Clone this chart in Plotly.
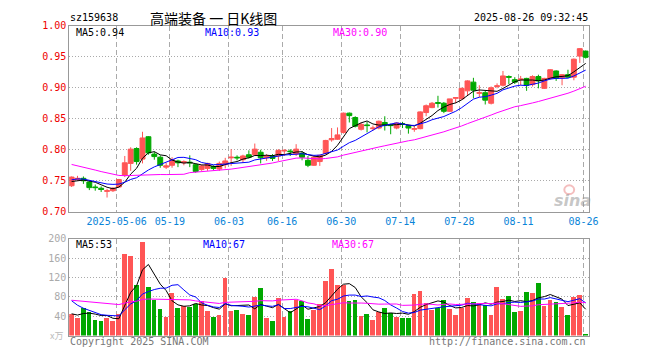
import plotly.graph_objects as go

# ---------------- data ----------------
dates = [
    "2025-04-21", "2025-04-22", "2025-04-23", "2025-04-24", "2025-04-25", "2025-04-28", "2025-04-29", "2025-04-30",
    "2025-05-06", "2025-05-07", "2025-05-08", "2025-05-09", "2025-05-12", "2025-05-13", "2025-05-14", "2025-05-15",
    "2025-05-16", "2025-05-19", "2025-05-20", "2025-05-21", "2025-05-22", "2025-05-23", "2025-05-26", "2025-05-27",
    "2025-05-28", "2025-05-29", "2025-05-30", "2025-06-03", "2025-06-04", "2025-06-05", "2025-06-06", "2025-06-09",
    "2025-06-10", "2025-06-11", "2025-06-12", "2025-06-13", "2025-06-16", "2025-06-17", "2025-06-18", "2025-06-19",
    "2025-06-20", "2025-06-23", "2025-06-24", "2025-06-25", "2025-06-26", "2025-06-27", "2025-06-30", "2025-07-01",
    "2025-07-02", "2025-07-03", "2025-07-04", "2025-07-07", "2025-07-08", "2025-07-09", "2025-07-10", "2025-07-11",
    "2025-07-14", "2025-07-15", "2025-07-16", "2025-07-17", "2025-07-18", "2025-07-21", "2025-07-22", "2025-07-23",
    "2025-07-24", "2025-07-25", "2025-07-28", "2025-07-29", "2025-07-30", "2025-07-31", "2025-08-01", "2025-08-04",
    "2025-08-05", "2025-08-06", "2025-08-07", "2025-08-08", "2025-08-11", "2025-08-12", "2025-08-13", "2025-08-14",
    "2025-08-15", "2025-08-18", "2025-08-19", "2025-08-20", "2025-08-21", "2025-08-22", "2025-08-25", "2025-08-26",
]

opens = [
    0.742, 0.752, 0.754, 0.748, 0.740, 0.738, 0.733, 0.734, 0.740, 0.759, 0.778, 0.802, 0.785, 0.821, 0.793, 0.788,
    0.772, 0.775, 0.782, 0.779, 0.780, 0.776, 0.768, 0.770, 0.773, 0.769, 0.776, 0.787, 0.788, 0.784, 0.792, 0.792,
    0.796, 0.787, 0.790, 0.790, 0.798, 0.798, 0.793, 0.794, 0.783, 0.775, 0.781, 0.794, 0.816, 0.817, 0.828, 0.859,
    0.852, 0.833, 0.840, 0.834, 0.835, 0.844, 0.840, 0.835, 0.842, 0.839, 0.833, 0.834, 0.860, 0.868, 0.876, 0.875,
    0.862, 0.883, 0.882, 0.895, 0.909, 0.891, 0.892, 0.875, 0.902, 0.904, 0.918, 0.913, 0.913, 0.915, 0.905, 0.918,
    0.899, 0.915, 0.927, 0.916, 0.921, 0.917, 0.951, 0.959,
]
highs = [
    0.757, 0.758, 0.757, 0.751, 0.744, 0.741, 0.737, 0.740, 0.753, 0.790, 0.804, 0.804, 0.829, 0.822, 0.797, 0.791,
    0.779, 0.788, 0.784, 0.783, 0.791, 0.778, 0.776, 0.779, 0.775, 0.781, 0.787, 0.801, 0.791, 0.792, 0.799, 0.810,
    0.800, 0.793, 0.793, 0.801, 0.801, 0.801, 0.809, 0.798, 0.790, 0.791, 0.792, 0.816, 0.835, 0.836, 0.860, 0.860,
    0.854, 0.844, 0.845, 0.839, 0.847, 0.854, 0.842, 0.844, 0.845, 0.840, 0.838, 0.862, 0.873, 0.877, 0.887, 0.877,
    0.882, 0.884, 0.900, 0.912, 0.916, 0.904, 0.895, 0.902, 0.907, 0.927, 0.920, 0.917, 0.919, 0.916, 0.920, 0.921,
    0.916, 0.930, 0.928, 0.922, 0.929, 0.947, 0.964, 0.960,
]
lows = [
    0.740, 0.750, 0.745, 0.735, 0.734, 0.732, 0.723, 0.732, 0.739, 0.756, 0.766, 0.776, 0.778, 0.792, 0.784, 0.771,
    0.769, 0.771, 0.772, 0.775, 0.772, 0.763, 0.766, 0.766, 0.767, 0.766, 0.770, 0.774, 0.783, 0.779, 0.786, 0.790,
    0.778, 0.782, 0.782, 0.782, 0.790, 0.790, 0.790, 0.783, 0.772, 0.774, 0.774, 0.792, 0.813, 0.816, 0.826, 0.844,
    0.836, 0.831, 0.828, 0.831, 0.833, 0.831, 0.825, 0.833, 0.835, 0.826, 0.829, 0.833, 0.854, 0.867, 0.868, 0.859,
    0.861, 0.875, 0.881, 0.887, 0.883, 0.885, 0.873, 0.873, 0.899, 0.902, 0.906, 0.906, 0.904, 0.895, 0.902, 0.899,
    0.898, 0.913, 0.911, 0.904, 0.916, 0.912, 0.940, 0.947,
]
closes = [
    0.756, 0.754, 0.750, 0.739, 0.739, 0.736, 0.734, 0.738, 0.752, 0.779, 0.801, 0.781, 0.819, 0.795, 0.789, 0.775,
    0.774, 0.784, 0.779, 0.781, 0.779, 0.765, 0.774, 0.778, 0.770, 0.778, 0.782, 0.788, 0.787, 0.790, 0.788, 0.801,
    0.787, 0.790, 0.786, 0.799, 0.799, 0.797, 0.801, 0.788, 0.775, 0.788, 0.791, 0.815, 0.818, 0.824, 0.859, 0.855,
    0.838, 0.841, 0.839, 0.835, 0.846, 0.839, 0.839, 0.843, 0.841, 0.835, 0.834, 0.861, 0.871, 0.875, 0.875, 0.862,
    0.882, 0.884, 0.899, 0.911, 0.896, 0.892, 0.880, 0.900, 0.903, 0.919, 0.917, 0.909, 0.914, 0.904, 0.918, 0.911,
    0.915, 0.929, 0.915, 0.921, 0.917, 0.946, 0.963, 0.949,
]
volumes = [
    45, 37, 58, 50, 32, 30, 37, 30, 45, 170, 164, 106, 194, 100, 75, 56,
    40, 88, 58, 61, 60, 65, 72, 52, 40, 44, 120, 52, 54, 46, 44, 80,
    98, 36, 30, 78, 40, 52, 74, 72, 34, 54, 66, 114, 138, 106, 106, 72,
    74, 42, 46, 32, 50, 58, 48, 40, 36, 38, 86, 92, 68, 54, 58, 74,
    56, 44, 58, 78, 70, 68, 64, 44, 100, 76, 82, 50, 52, 90, 88, 110,
    62, 74, 70, 60, 44, 80, 84, 4,
]
# sessions before the visible window (only feed the moving averages)
prior_closes = [
    0.815, 0.818, 0.812, 0.808, 0.810, 0.806, 0.804, 0.800,
    0.791, 0.789, 0.784, 0.787, 0.781, 0.784, 0.779, 0.777, 0.781, 0.783,
    0.765, 0.700, 0.740, 0.752, 0.758, 0.762, 0.760, 0.748, 0.744, 0.747, 0.749,
]
prior_volumes = [
    70, 78, 72, 75, 68, 80, 72, 73,
    80, 78, 76, 82, 75, 85,
    62, 60, 58, 64, 72, 90,
    130, 120, 95, 80, 70, 50, 42, 46, 42,
]
tick_dates = ["2025-05-06", "2025-05-19", "2025-06-03", "2025-06-16", "2025-06-30",
              "2025-07-14", "2025-07-28", "2025-08-11", "2025-08-26"]
tick_labels = ["2025-05-06", "05-19", "06-03", "06-16", "06-30", "07-14", "07-28", "08-11", "08-26"]
price_ticks = [0.70, 0.75, 0.80, 0.85, 0.90, 0.95, 1.00]
volume_ticks = [40, 80, 120, 160, 200]

symbol = "sz159638"
title_text = "高端装备 一 日K线图"
stamp = "2025-08-26 09:32:45"
price_ma_labels = ["MA5:0.94", "MA10:0.93", "MA30:0.90"]
volume_ma_labels = ["MA5:53", "MA10:67", "MA30:67"]

# ---------------- helpers ----------------
W, H = 660, 360
RED = "#ff5555"
GREEN = "#00a800"
MA_COLORS = ["#000000", "#0000ff", "#ff00ff"]
GRID = "#aaaaaa"
BORDER = "#999999"
MONO = "DejaVu Sans Mono"


def px(x):
    return x / W


def py(y):
    return 1 - y / H


def moving_average(prior, values, n):
    full = list(prior) + list(values)
    k = len(prior)
    return [sum(full[k + i - n + 1:k + i + 1]) / n for i in range(len(values))]


xs = list(range(len(dates)))
tickvals = [dates.index(d) - 0.37 for d in tick_dates]
bar_colors = [RED if c >= o else GREEN for o, c in zip(opens, closes)]

fig = go.Figure()
fig.add_trace(go.Candlestick(
    x=xs, open=opens, high=highs, low=lows, close=closes,
    increasing=dict(line=dict(color=RED, width=1), fillcolor=RED),
    decreasing=dict(line=dict(color=GREEN, width=1), fillcolor=GREEN),
    whiskerwidth=0, xaxis="x", yaxis="y", showlegend=False, hoverinfo="skip",
))
for n, col in zip([5, 10, 30], MA_COLORS):
    fig.add_trace(go.Scatter(
        x=xs, y=moving_average(prior_closes, closes, n), mode="lines",
        line=dict(color=col, width=1), xaxis="x", yaxis="y", showlegend=False, hoverinfo="skip",
    ))

fig.add_trace(go.Bar(
    x=xs, y=volumes, marker=dict(color=bar_colors, line=dict(width=0)), width=0.8,
    xaxis="x2", yaxis="y2", showlegend=False, hoverinfo="skip",
))
for n, col in zip([5, 10, 30], MA_COLORS):
    fig.add_trace(go.Scatter(
        x=xs, y=moving_average(prior_volumes, volumes, n), mode="lines",
        line=dict(color=col, width=1), xaxis="x2", yaxis="y2", showlegend=False, hoverinfo="skip",
    ))

xdom = [px(70.3), px(597.7)]
xrange_ = [-0.4, 87.5]
common_x = dict(
    domain=xdom, range=xrange_, tickvals=tickvals, showgrid=True, gridcolor=GRID,
    griddash="5px,3px", gridwidth=1, zeroline=False, showline=True, mirror=True,
    linecolor=BORDER, linewidth=1, ticks="", fixedrange=True,
)

annotations = []


def note(text, x, y, color="#000000", size=10, family=MONO, xanchor="left", **kw):
    annotations.append(dict(
        text=text, x=px(x), y=py(y), xref="paper", yref="paper", showarrow=False,
        xanchor=xanchor, yanchor="middle", font=dict(family=family, size=size, color=color), **kw,
    ))


note(symbol, 69, 12)
note(title_text, 150, 12, size=14, family="Noto Sans CJK SC")
note(stamp, 599, 12, xanchor="right")
for lab, x, col in zip(price_ma_labels, [75, 206, 336], MA_COLORS):
    note(lab, x, 27.5, color=col)
for lab, x, col in zip(volume_ma_labels, [75, 204, 335], MA_COLORS):
    note(lab, x, 246.5, color=col)
note("Copyright 2025 SINA.COM", 69, 346, color="#777777")
note("http://finance.sina.com.cn", 597, 346, color="#777777", xanchor="right")
note("x万", 49, 340, color="#bbbbbb", size=9, family="Noto Sans CJK SC")
note("<b><i>sina</i></b>", 581, 201, color="rgba(150,150,150,0.55)", size=16,
     family="DejaVu Sans", xanchor="center")

# faint red "eye" of the watermark logo
shapes = [dict(type="circle", xref="paper", yref="paper",
               x0=px(573), x1=px(583), y0=py(194), y1=py(185),
               line=dict(color="rgba(230,110,110,0.45)", width=2),
               fillcolor="rgba(255,255,255,0)")]

fig.update_layout(
    width=W, height=H, margin=dict(l=0, r=0, t=0, b=0),
    paper_bgcolor="#ffffff", plot_bgcolor="#ffffff",
    boxgap=0.17, boxgroupgap=0, bargap=0,
    xaxis=dict(**common_x, anchor="y", showticklabels=True, ticktext=tick_labels,
               tickfont=dict(family=MONO, size=10, color="#0a84d8"),
               rangeslider=dict(visible=False)),
    xaxis2=dict(**common_x, anchor="y2", matches="x", showticklabels=False),
    yaxis=dict(domain=[py(212.3), py(20.3)], range=[0.70, 1.00], tickvals=price_ticks,
               ticktext=["%.2f" % v for v in price_ticks],
               tickfont=dict(family=MONO, size=10, color="#ee0000"),
               showgrid=True, gridcolor=GRID, griddash="1px,2px", zeroline=False,
               showline=True, mirror=True, linecolor=BORDER, linewidth=1, ticks="",
               anchor="x", fixedrange=True),
    yaxis2=dict(domain=[py(340), py(240)], range=[0, 200], tickvals=volume_ticks,
                tickfont=dict(family=MONO, size=10, color="#aaaaaa"),
                showgrid=True, gridcolor=GRID, griddash="1px,2px", zeroline=False,
                showline=True, mirror=True, linecolor=BORDER, linewidth=1, ticks="",
                anchor="x2", fixedrange=True),
    annotations=annotations,
    shapes=shapes,
)

fig.write_html(
    "out.html",
    config={"displayModeBar": False, "responsive": False},
    post_script="document.body.style.margin='0';document.body.style.overflow='hidden';",
)
